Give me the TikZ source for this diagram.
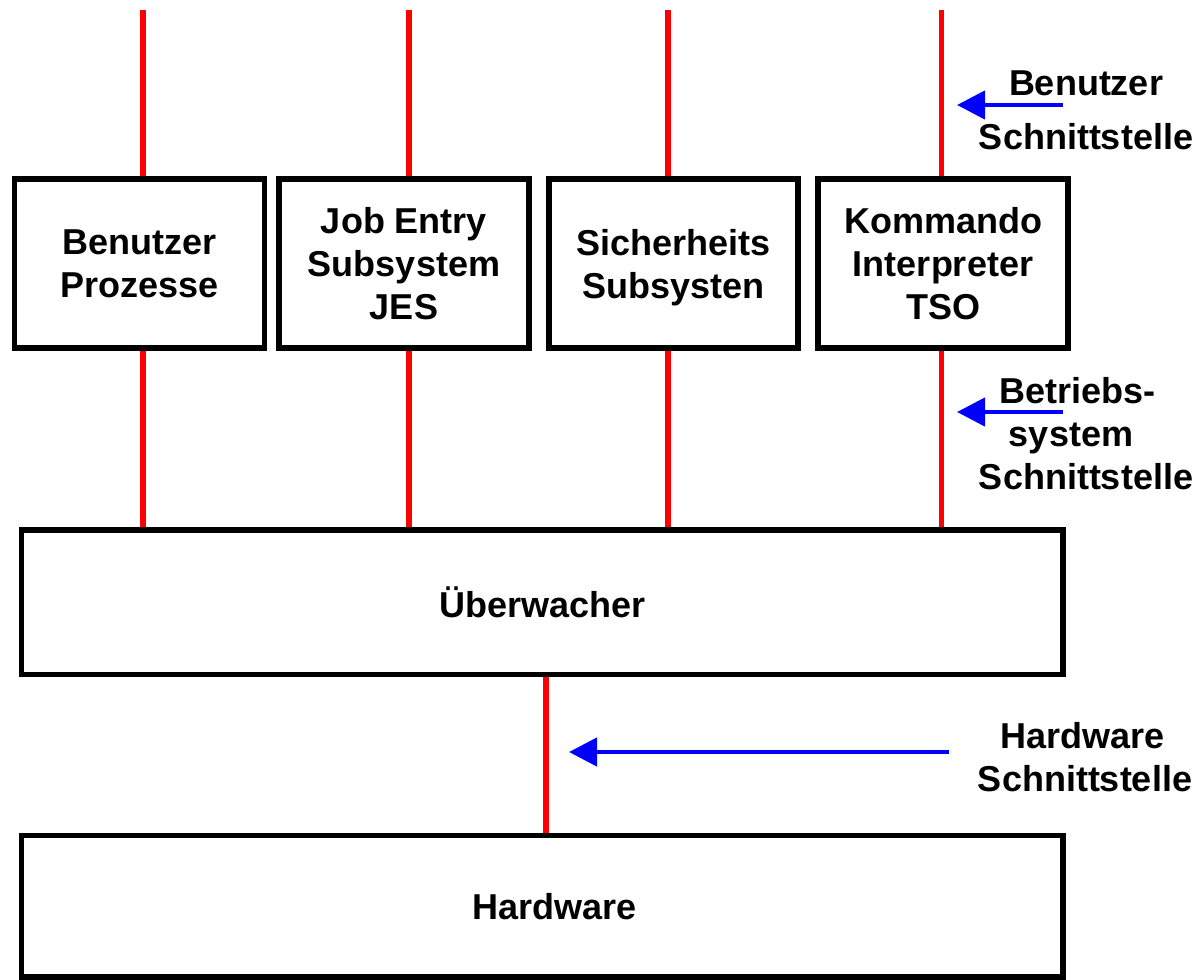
\documentclass[tikz,border=0pt]{standalone}
\usepackage{fontspec}
\setmainfont{Liberation Sans}
\usetikzlibrary{arrows.meta}
\begin{document}
\begin{tikzpicture}[x=1pt,y=-1pt,
  txt/.style={font=\bfseries\fontsize{36}{43}\selectfont, align=center, inner sep=0pt},
  blk/.style={txt, draw=black, line width=5.5pt, fill=white, text depth=0pt},
  redline/.style={draw=red, line width=5.5pt},
  bluearrow/.style={draw=blue, line width=4.5pt, -{Triangle[length=28pt,width=28pt]}}]
\useasboundingbox (0,0) rectangle (1198,979);
% boxes
\node[blk, minimum width=250pt, minimum height=169pt] (b1) at (139.5,263.5) {Benutzer\\Prozesse};
\node[blk, minimum width=250pt, minimum height=169pt] (b2) at (404,263.5) {Job Entry\\Subsystem\\JES};
\node[blk, minimum width=249pt, minimum height=169pt] (b3) at (673.5,263.5) {Sicherheits\\Subsysten};
\node[blk, minimum width=250pt, minimum height=169pt] (b4) at (943,263.5) {Kommando\\Interpreter\\TSO};
\node[blk, minimum width=1041.5pt, minimum height=144.5pt] (ub) at (542.25,602.25) {Überwacher};
\node[blk, minimum width=1041.5pt, minimum height=141.5pt] (hw) at (542.25,906) {\rule{25pt}{0pt}Hardware};
% red interface lines
\coordinate (t1) at (143,10);
\coordinate (t2) at (409,10);
\coordinate (t3) at (668,10);
\coordinate (t4) at (941.5,10);
\coordinate (t5) at (546,700);
\foreach \i in {1,2,3,4}{
  \draw[redline] (t\i) -- (t\i |- b\i.north);
  \draw[redline] (t\i |- b\i.south) -- (t\i |- ub.north);
}
\draw[redline] (t5 |- ub.south) -- (t5 |- hw.north);
% labels
\node[txt] (l1) at (1086,110) {Benutzer\\[11pt]Schnittstelle};
\node[txt] (l2) at (1086,433.5) {\fontsize{36}{42}\selectfont Betriebs-\rule{17pt}{0pt}\\system\rule{30pt}{0pt}\\Schnittstelle};
\node[txt] (l3) at (1085,757.5) {Hardware\rule{5pt}{0pt}\\Schnittstelle};
% blue arrows
\coordinate (a1s) at (1063,105);
\coordinate (a1e) at (957,105);
\coordinate (a2s) at (1063,412);
\coordinate (a2e) at (957,412);
\coordinate (a3s) at (949,752);
\coordinate (a3e) at (569,752);
\draw[bluearrow] (a1s) -- (a1e);
\draw[bluearrow] (a2s) -- (a2e);
\draw[bluearrow] (a3s) -- (a3e);
\end{tikzpicture}
\end{document}
